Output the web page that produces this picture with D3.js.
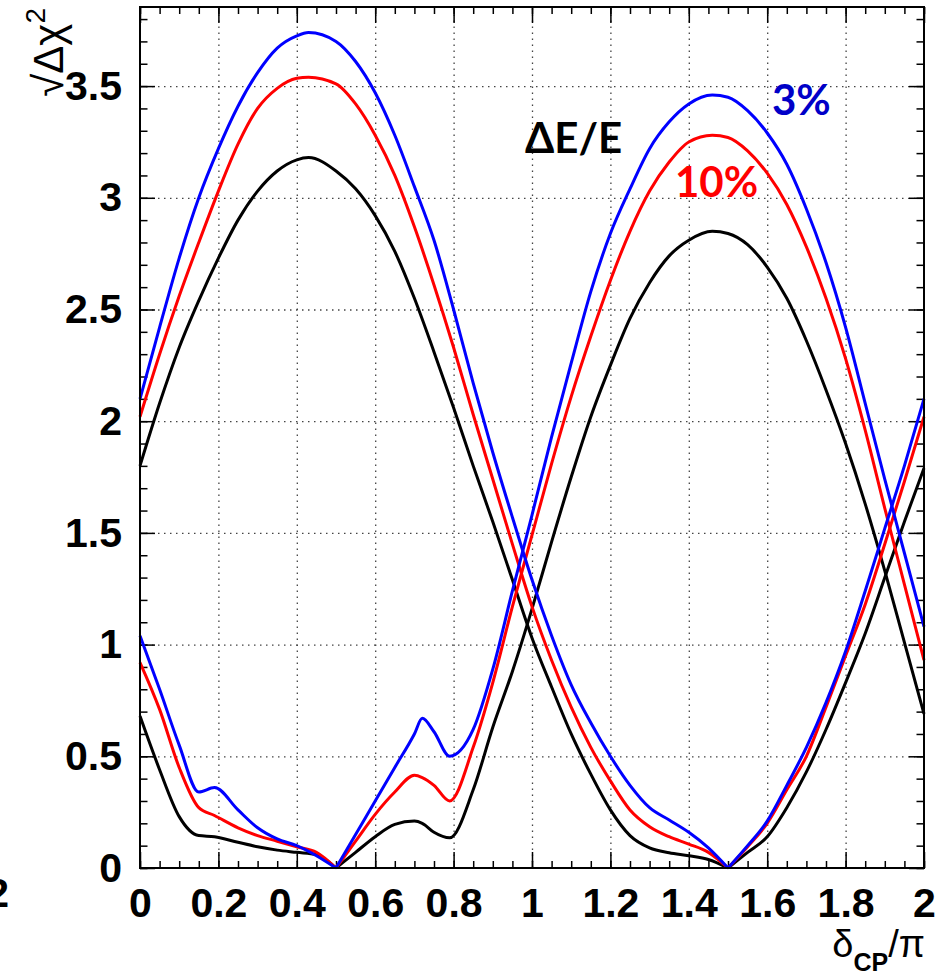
<!DOCTYPE html>
<html lang="en">
<head>
<meta charset="UTF-8">
<title>sqrt(dchi2) vs deltaCP</title>
<script src="https://d3js.org/d3.v7.min.js"></script>
<style>
  body { margin: 0; background: #fff; }
  svg { display: block; }
  .axis text { font-family: "Liberation Sans", Arial, sans-serif; font-weight: bold; font-size: 41px; fill: #000; }
  .axis line { stroke: #000; stroke-width: 1.5; }
  .axis .domain { display: none; }
  .grid line { stroke: #444; stroke-width: 1.3; stroke-dasharray: 1.5 4.5; }
  .grid .domain { display: none; }
  .curve { fill: none; stroke-width: 3; stroke-linejoin: round; }
  .note { font-family: Lato, "Open Sans", sans-serif; font-weight: bold; font-size: 42px; }
</style>
</head>
<body>
<svg width="949" height="976"></svg>
<script>
// delta_CP / pi sampling for the two families of curves
const deltaA = [0, 0.05, 0.1, 0.15, 0.19, 0.25, 0.3, 0.35, 0.4, 0.45,
  0.5, 0.55, 0.6, 0.65, 0.7, 0.72, 0.75, 0.79, 0.85, 0.9,
  0.95, 1.0, 1.05, 1.1, 1.15, 1.2, 1.25, 1.3, 1.35, 1.4,
  1.46, 1.5, 1.55, 1.6, 1.65, 1.7, 1.75, 1.8, 1.85, 1.9, 1.95, 2.0];
const deltaB = [0, 0.05, 0.1, 0.15, 0.2, 0.25, 0.3, 0.35, 0.4, 0.43,
  0.5, 0.55, 0.6, 0.65, 0.7, 0.75, 0.8, 0.85, 0.9, 0.95,
  1.0, 1.05, 1.1, 1.15, 1.2, 1.25, 1.3, 1.35, 1.4, 1.45,
  1.5, 1.55, 1.6, 1.65, 1.7, 1.75, 1.8, 1.85, 1.9, 1.95, 2.0];

// sqrt(delta chi2), family A (zero at 0.5)
const blueA = [1.04, 0.80, 0.55, 0.34, 0.36, 0.26, 0.18, 0.13, 0.10, 0.055,
  0, 0.15, 0.30, 0.45, 0.60, 0.67, 0.61, 0.50, 0.62, 0.89,
  1.24, 1.58, 1.93, 2.26, 2.58, 2.84, 3.04, 3.22, 3.34, 3.42,
  3.46, 3.45, 3.39, 3.29, 3.15, 2.95, 2.71, 2.42, 2.08, 1.74, 1.41, 1.08];
const redA = [0.92, 0.71, 0.45, 0.27, 0.235, 0.18, 0.145, 0.12, 0.095, 0.07,
  0, 0.12, 0.24, 0.34, 0.415, 0.405, 0.37, 0.30, 0.54, 0.83,
  1.17, 1.49, 1.81, 2.11, 2.38, 2.63, 2.85, 3.03, 3.16, 3.25,
  3.28, 3.27, 3.21, 3.11, 2.97, 2.78, 2.55, 2.28, 1.96, 1.61, 1.27, 0.93];
const blackA = [0.68, 0.44, 0.23, 0.145, 0.14, 0.115, 0.095, 0.08, 0.07, 0.06,
  0, 0.07, 0.14, 0.195, 0.21, 0.20, 0.16, 0.135, 0.35, 0.63,
  0.88, 1.16, 1.46, 1.75, 2.02, 2.25, 2.46, 2.62, 2.74, 2.81,
  2.85, 2.84, 2.79, 2.69, 2.55, 2.36, 2.14, 1.90, 1.63, 1.33, 1.01, 0.69];

// family B (zero at 1.5)
const blueB = [2.10, 2.42, 2.73, 3.00, 3.22, 3.41, 3.56, 3.67, 3.725, 3.74,
  3.70, 3.61, 3.47, 3.28, 3.05, 2.81, 2.50, 2.17, 1.86, 1.57,
  1.29, 1.04, 0.82, 0.65, 0.50, 0.37, 0.27, 0.215, 0.16, 0.09,
  0, 0.10, 0.21, 0.37, 0.54, 0.74, 0.97, 1.24, 1.52, 1.80, 2.10];
const redB = [2.02, 2.30, 2.56, 2.80, 3.03, 3.24, 3.40, 3.49, 3.535, 3.54,
  3.51, 3.42, 3.28, 3.10, 2.87, 2.61, 2.33, 2.03, 1.74, 1.45,
  1.17, 0.93, 0.72, 0.54, 0.39, 0.26, 0.185, 0.14, 0.107, 0.07,
  0, 0.095, 0.20, 0.35, 0.50, 0.72, 0.95, 1.18, 1.45, 1.73, 2.02];
const blackB = [1.80, 2.08, 2.33, 2.54, 2.73, 2.90, 3.03, 3.12, 3.17, 3.18,
  3.12, 3.04, 2.92, 2.76, 2.55, 2.31, 2.06, 1.80, 1.55, 1.29,
  1.03, 0.81, 0.60, 0.42, 0.26, 0.145, 0.09, 0.068, 0.055, 0.038,
  0, 0.07, 0.14, 0.27, 0.43, 0.62, 0.83, 1.05, 1.30, 1.55, 1.79];

const xTickLabels = [0, 0.2, 0.4, 0.6, 0.8, 1, 1.2, 1.4, 1.6, 1.8, 2];
const yTickLabels = [0, 0.5, 1, 1.5, 2, 2.5, 3, 3.5];

const svg = d3.select("svg");
const frame = { left: 140, right: 924, top: 7, bottom: 868 };

const x = d3.scaleLinear().domain([0, 2]).range([frame.left, frame.right]);
const y = d3.scaleLinear().domain([0, 3.854]).range([frame.bottom, frame.top]);

const xMinor = d3.range(0, 41).map(i => i * 0.05);
const yMinor = d3.range(0, 39).map(i => i * 0.1);
const gridX = xTickLabels.slice(1, -1);
const gridY = yTickLabels.slice(1);

// dotted grid
svg.append("g").attr("class", "grid")
  .attr("transform", `translate(0,${frame.bottom})`)
  .call(d3.axisBottom(x).tickValues(gridX).tickSize(-(frame.bottom - frame.top)).tickFormat(""));
svg.append("g").attr("class", "grid")
  .attr("transform", `translate(${frame.left},0)`)
  .call(d3.axisLeft(y).tickValues(gridY).tickSize(-(frame.right - frame.left)).tickFormat(""));

// ticks pointing inwards on all four sides
function ticks(axisFn, scale, values, size, tx, ty, labels) {
  const ax = axisFn(scale).tickValues(values).tickSize(size);
  if (labels) ax.tickPadding(labels).tickFormat(d3.format("~g"));
  else ax.tickFormat("");
  return svg.append("g").attr("class", "axis")
    .attr("transform", `translate(${tx},${ty})`)
    .call(ax);
}
ticks(d3.axisBottom, x, xMinor, -7, 0, frame.bottom);
ticks(d3.axisBottom, x, xTickLabels, -16, 0, frame.bottom, 20);
ticks(d3.axisTop, x, xMinor, -7, 0, frame.top);
ticks(d3.axisTop, x, xTickLabels, -16, 0, frame.top);
ticks(d3.axisLeft, y, yMinor, -7.5, frame.left, 0);
ticks(d3.axisLeft, y, yTickLabels, -15, frame.left, 0, 18);
ticks(d3.axisRight, y, yMinor, -7.5, frame.right, 0);
ticks(d3.axisRight, y, yTickLabels, -15, frame.right, 0);

// curves: each one is split at its zero so the V-shaped minimum stays sharp
const series = [
  { xs: deltaA, ys: blackA, color: "#000000" },
  { xs: deltaB, ys: blackB, color: "#000000" },
  { xs: deltaA, ys: redA, color: "#ff0000" },
  { xs: deltaB, ys: redB, color: "#ff0000" },
  { xs: deltaA, ys: blueA, color: "#0000ff" },
  { xs: deltaB, ys: blueB, color: "#0000ff" }
];
const line = d3.line()
  .x(d => x(d[0]))
  .y(d => y(d[1]))
  .curve(d3.curveMonotoneX);

function pieces(s) {
  const pts = s.xs.map((v, i) => [v, s.ys[i]]);
  const iz = s.ys.indexOf(0);
  return line(pts.slice(0, iz + 1)) + line(pts.slice(iz));
}

svg.append("g").selectAll("path")
  .data(series)
  .join("path")
  .attr("class", "curve")
  .attr("stroke", d => d.color)
  .attr("d", pieces);

// frame
svg.append("rect")
  .attr("x", frame.left).attr("y", frame.top)
  .attr("width", frame.right - frame.left)
  .attr("height", frame.bottom - frame.top)
  .attr("fill", "none").attr("stroke", "#000").attr("stroke-width", 2);

// axis titles
const yTitle = svg.append("text")
  .attr("transform", "translate(63,8) rotate(-90)")
  .attr("text-anchor", "end")
  .style("font-family", "'Liberation Sans', Arial, sans-serif")
  .style("font-size", "42px");
yTitle.append("tspan").text("\u221A\u0394\u03C7");
yTitle.append("tspan").attr("dy", -18).style("font-size", "28px").text("2");

const xTitle = svg.append("text")
  .attr("x", 925).attr("y", 957)
  .attr("text-anchor", "end")
  .style("font-family", "'Liberation Sans', Arial, sans-serif")
  .style("font-size", "38px");
xTitle.append("tspan").text("\u03B4");
xTitle.append("tspan").attr("dy", 14).style("font-size", "25px").style("font-weight", "bold").text("CP");
xTitle.append("tspan").attr("dy", -14).text("/\u03C0");

// cut-off label from the neighbouring panel
svg.append("text").attr("class", "axis")
  .attr("x", 9).attr("y", 907).attr("text-anchor", "end")
  .style("font-family", "'Liberation Sans', Arial, sans-serif")
  .style("font-weight", "bold").style("font-size", "41px")
  .text("2");

// annotations
svg.append("text").attr("class", "note").attr("x", 525).attr("y", 153).attr("fill", "#000").text("\u0394E/E");
svg.append("text").attr("class", "note").attr("x", 772).attr("y", 115).attr("fill", "#0000c8").text("3%");
svg.append("text").attr("class", "note").attr("x", 675).attr("y", 197).attr("fill", "#ff0000").text("10%");
</script>
</body>
</html>
